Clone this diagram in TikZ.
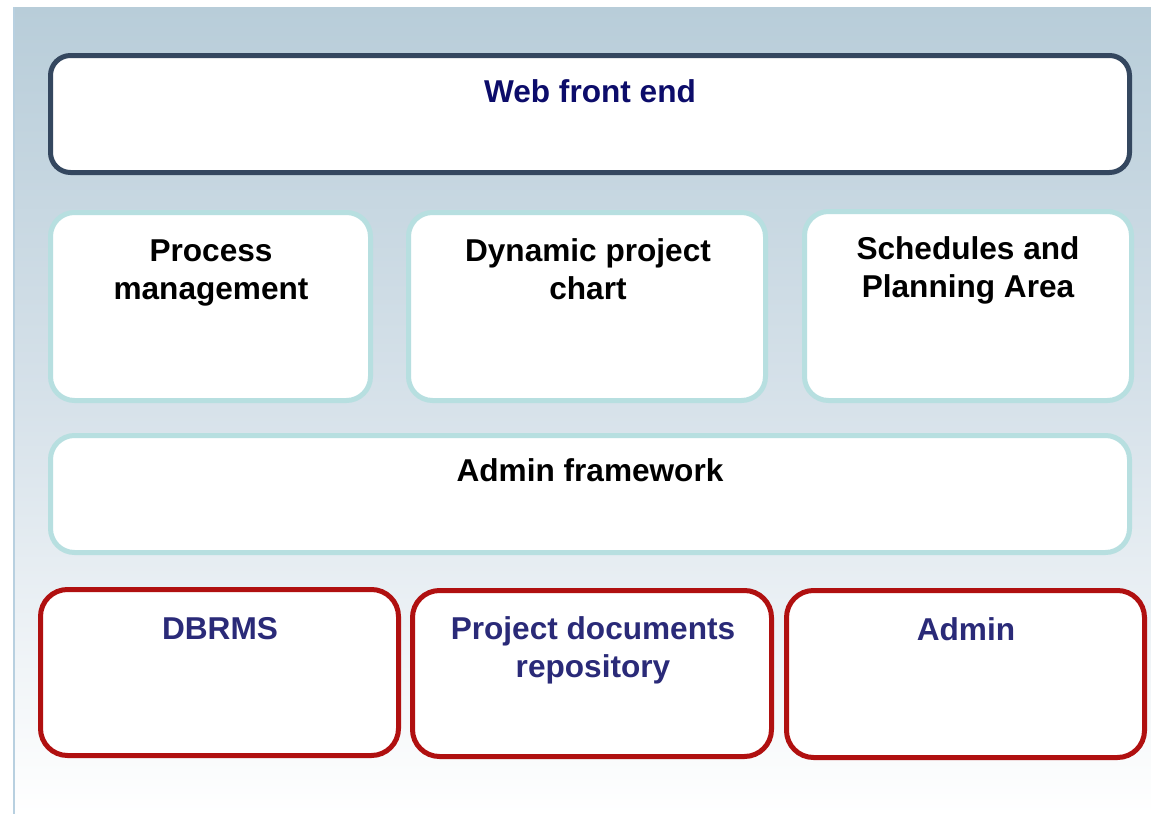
\documentclass[tikz,border=0pt]{standalone}
\usepackage{fontspec}
\setmainfont{Liberation Sans}
\definecolor{bgtop}{RGB}{184,205,217}
\definecolor{bgmid}{RGB}{215,226,234}
\definecolor{edgeblue}{RGB}{184,208,224}
\definecolor{navyborder}{RGB}{52,71,95}
\definecolor{tealborder}{RGB}{183,223,224}
\definecolor{redborder}{RGB}{176,16,16}
\definecolor{navytext}{RGB}{12,12,106}
\definecolor{slatetext}{RGB}{42,42,120}
\tikzset{
  lbl/.style={font=\fontsize{31.6}{38}\selectfont\bfseries, align=center, anchor=base, inner sep=0pt},
  webbox/.style={draw=navyborder, line width=5pt, fill=white, rounded corners=20pt},
  tealbox/.style={draw=tealborder, line width=5pt, fill=white, rounded corners=24pt},
  redbox/.style={draw=redborder, line width=5pt, fill=white, rounded corners=27pt},
}
\begin{document}
\begin{tikzpicture}[x=1pt,y=-1pt]
\useasboundingbox (0,0) rectangle (1151,814);
% background
\shade[top color=bgtop, bottom color=white, middle color=bgmid] (13,7) rectangle (1151,814);
\draw[edgeblue, line width=2pt] (14,7) -- (14,814);
% boxes
\draw[webbox] (50.5,55.5) rectangle (1129.5,172.5);
\draw[tealbox] (50.5,212.5) rectangle (370.5,400.5);
\draw[tealbox] (408.5,212.5) rectangle (765.5,400.5);
\draw[tealbox] (804.5,211.5) rectangle (1131.5,400.5);
\draw[tealbox] (50.5,435.5) rectangle (1129.5,552.5);
\draw[redbox] (40.5,589.5) rectangle (398.5,755.5);
\draw[redbox] (412.5,590.5) rectangle (771.5,756.5);
\draw[redbox] (786.5,590.5) rectangle (1144.5,757.5);
% labels
\node[lbl, text=navytext] (web) at (590,102) {Web front end};
\node[lbl] (proc) at (211,299) {Process\\management};
\node[lbl] (dyn) at (588,299) {Dynamic project\\chart};
\node[lbl] (sched) at (968,297) {Schedules and\\Planning Area};
\node[lbl] (adminfw) at (590,481) {Admin framework};
\node[lbl, text=slatetext] (dbrms) at (220,639) {DBRMS};
\node[lbl, text=slatetext] (docs) at (593,677) {Project documents\\repository};
\node[lbl, text=slatetext] (admin) at (966,640) {Admin};
\end{tikzpicture}
\end{document}
